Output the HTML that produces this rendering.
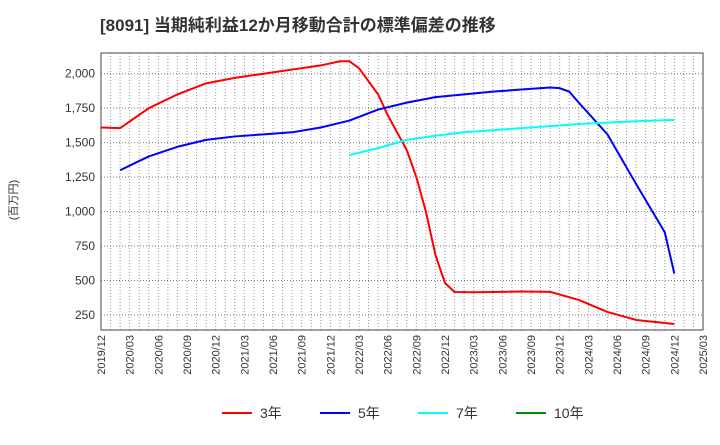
<!DOCTYPE html>
<html><head><meta charset="utf-8"><style>
body{margin:0;background:#fff;width:720px;height:440px;overflow:hidden}
svg text{font-family:"Liberation Sans","Noto Sans CJK JP",sans-serif}
</style></head><body>
<svg id="c" width="720" height="440" xmlns="http://www.w3.org/2000/svg">
<text x="100" y="31" font-size="17" font-weight="bold" fill="#333">[8091]  当期純利益12か月移動合計の標準偏差の推移</text>
<text transform="translate(17,200) rotate(-90)" font-size="11" fill="#333" text-anchor="middle">(百万円)</text>
<g id="grid"></g><g id="axes"></g><g id="series"></g>
<g>
<line x1="222" y1="413" x2="252" y2="413" stroke="#f00" stroke-width="2"/><text x="260" y="418" font-size="14" fill="#333">3年</text>
<line x1="320" y1="413" x2="350" y2="413" stroke="#00f" stroke-width="2"/><text x="358" y="418" font-size="14" fill="#333">5年</text>
<line x1="418" y1="413" x2="448" y2="413" stroke="#0ff" stroke-width="2"/><text x="456" y="418" font-size="14" fill="#333">7年</text>
<line x1="516" y1="413" x2="546" y2="413" stroke="#080" stroke-width="2"/><text x="554" y="418" font-size="14" fill="#333">10年</text>
</g>
</svg>
<script>
const xTickLabels=["2019/12","2020/03","2020/06","2020/09","2020/12","2021/03","2021/06","2021/09","2021/12","2022/03","2022/06","2022/09","2022/12","2023/03","2023/06","2023/09","2023/12","2024/03","2024/06","2024/09","2024/12","2025/03"];
const yTicks=[250,500,750,1000,1250,1500,1750,2000];
const m3=[0,2,5,8,11,14,17,20,23,25,26,27,29,30,32,33,34,35,36,37,39,41,44,47,50,53,56,60];
const v3=[1610,1605,1750,1850,1930,1970,2000,2030,2060,2090,2090,2040,1850,1700,1446,1250,1000,685,482,417,415,417,420,418,359,272,214,185];
const m5=[2,5,8,11,14,17,20,23,26,29,32,35,38,41,44,47,48,49,50,53,56,59,60];
const v5=[1300,1400,1470,1520,1545,1560,1575,1610,1660,1740,1790,1830,1850,1870,1885,1900,1895,1870,1790,1560,1200,850,550];
const m7=[26,29,32,35,38,41,44,47,50,53,56,60];
const v7=[1410,1460,1520,1550,1575,1590,1605,1620,1635,1645,1655,1665];
const L=101,R=703,T=53,B=330;
const xs=m=>L+m*(R-L)/63, ys=v=>315-(v-250)*(315-73.7)/1750;
const ns="http://www.w3.org/2000/svg";
function mk(t,a,p){const e=document.createElementNS(ns,t);for(const k in a)e.setAttribute(k,a[k]);p.appendChild(e);return e;}
const g=document.getElementById('grid'),ax=document.getElementById('axes'),se=document.getElementById('series');
for(let m=1;m<63;m++){const l=mk('line',{x1:xs(m),x2:xs(m),y1:T,y2:B,stroke:'#999','stroke-width':1,'stroke-dasharray':'1,2'},g);

}
yTicks.forEach(v=>{const l=mk('line',{x1:L,x2:R,y1:ys(v),y2:ys(v),stroke:'#777','stroke-width':1,'stroke-dasharray':'1,2'},g);


const t=mk('text',{x:L-6,y:ys(v)+4,'font-size':12,fill:'#333','text-anchor':'end'},ax);t.textContent=v.toLocaleString('en-US');

});
const f=mk('rect',{x:L,y:T,width:R-L,height:B-T,fill:'none',stroke:'#444','stroke-width':1},ax);


xTickLabels.forEach((s,i)=>{const x=xs(i*3);const t=mk('text',{transform:`translate(${x+4},${B+5}) rotate(-90)`,'font-size':11,fill:'#333','text-anchor':'end'},ax);t.textContent=s;

});
function line(ms,vs,c,n){const p=mk('polyline',{points:ms.map((m,i)=>xs(m)+','+ys(vs[i])).join(' '),fill:'none',stroke:c,'stroke-width':2,'stroke-linejoin':'round'},se);

}
line(m3,v3,'#f00','series-3y');line(m5,v5,'#00f','series-5y');line(m7,v7,'#0ff','series-7y');
</script>
</body></html>
